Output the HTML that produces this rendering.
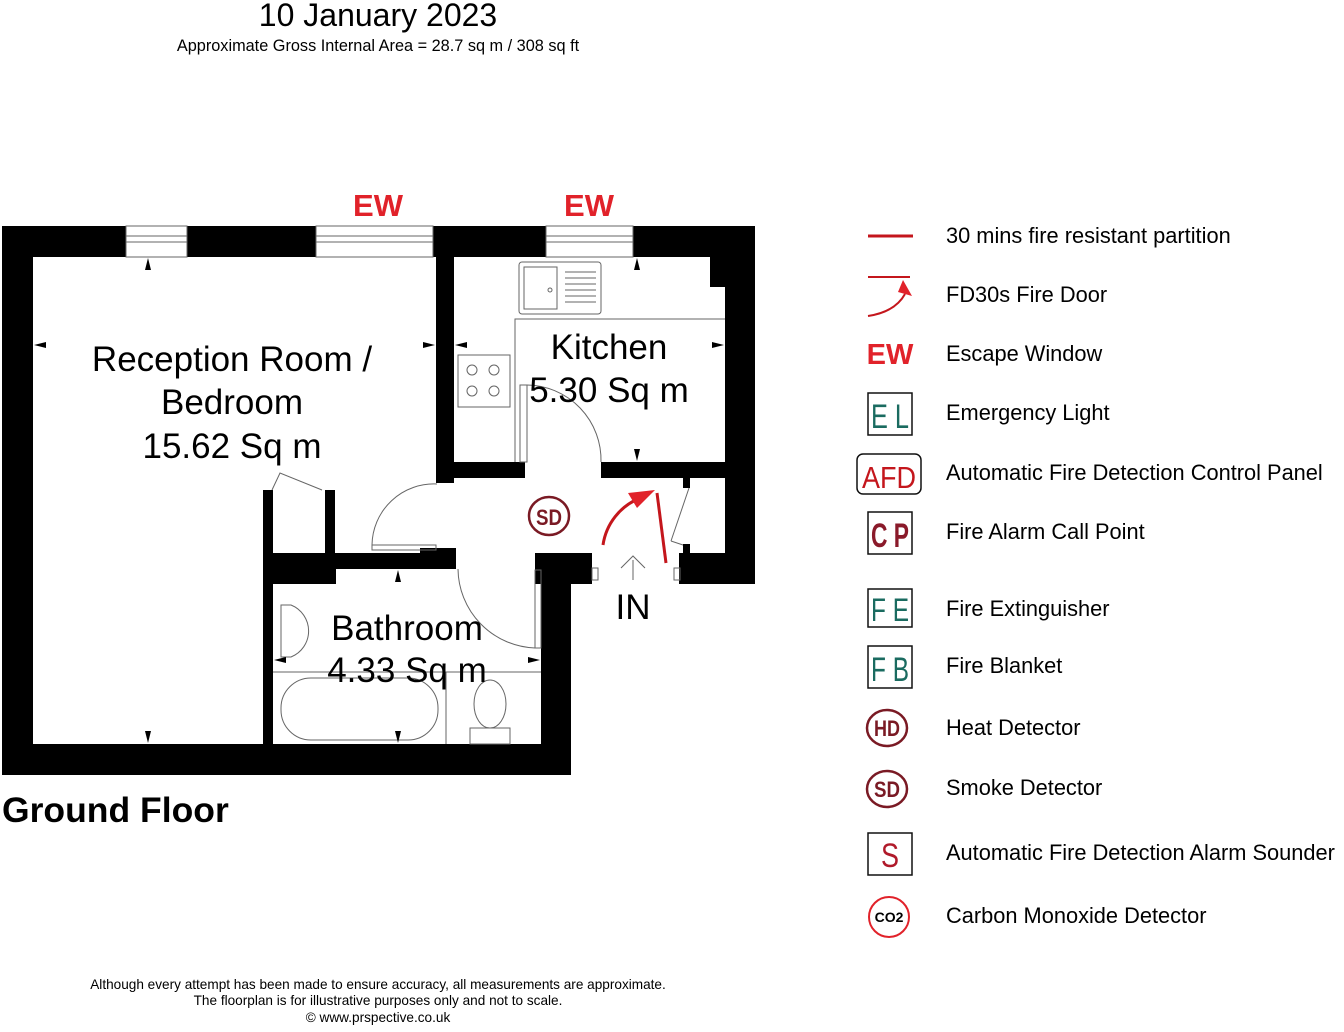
<!DOCTYPE html>
<html><head><meta charset="utf-8"><style>
body{margin:0;background:#fff;width:1344px;height:1032px;overflow:hidden;font-family:"Liberation Sans",sans-serif;}
svg{position:absolute;left:0;top:0}
</style></head><body>
<svg width="1344" height="1032" viewBox="0 0 1344 1032" font-family="Liberation Sans, sans-serif">
<text x="378" y="26" font-size="32" text-anchor="middle">10 January 2023</text>
<text x="378" y="51" font-size="16.3" text-anchor="middle">Approximate Gross Internal Area = 28.7 sq m / 308 sq ft</text>
<g fill="#000">
<rect x="2" y="226" width="753" height="31"/>
<rect x="2" y="226" width="31" height="549"/>
<rect x="2" y="744" width="569" height="31"/>
<rect x="541" y="553" width="30" height="222"/>
<rect x="436" y="226" width="18" height="257"/>
<rect x="436" y="462" width="89" height="16"/>
<rect x="601" y="462" width="124" height="16"/>
<rect x="725" y="226" width="30" height="358"/>
<rect x="710" y="257" width="15" height="30"/>
<rect x="535" y="553" width="57" height="31"/>
<rect x="679" y="553" width="76" height="31"/>
<rect x="683" y="478" width="7" height="10"/>
<rect x="683" y="544" width="7" height="10"/>
<rect x="263" y="490" width="10" height="254"/>
<rect x="263" y="553" width="73" height="31"/>
<rect x="325" y="490" width="10" height="65"/>
<rect x="336" y="553" width="120" height="16"/>
<rect x="420" y="548" width="36" height="10"/>
</g>
<g fill="#fff" stroke="#666" stroke-width="1">
<rect x="126" y="226" width="61" height="31"/>
<rect x="316" y="226" width="117" height="31"/>
<rect x="546" y="226" width="87" height="31"/>
</g>
<g stroke="#666" fill="none">
<line x1="126" y1="236" x2="187" y2="236"/><line x1="126" y1="242" x2="187" y2="242"/>
<line x1="316" y1="236" x2="433" y2="236"/><line x1="316" y1="242" x2="433" y2="242"/>
<line x1="546" y1="236" x2="633" y2="236"/><line x1="546" y1="242" x2="633" y2="242"/>
<polyline points="515,462 515,319 725,319"/>
<rect x="519" y="262" width="82" height="52" rx="3"/>
<rect x="524" y="267" width="33" height="42"/>
<circle cx="550" cy="290" r="2"/>
<line x1="565" y1="272" x2="596" y2="272"/><line x1="565" y1="278" x2="596" y2="278"/><line x1="565" y1="284" x2="596" y2="284"/><line x1="565" y1="290" x2="596" y2="290"/><line x1="565" y1="296" x2="596" y2="296"/><line x1="565" y1="302" x2="596" y2="302"/>
<rect x="458" y="355" width="52" height="52"/>
<circle cx="472" cy="370" r="5"/><circle cx="494" cy="370" r="5"/><circle cx="472" cy="391" r="5"/><circle cx="494" cy="391" r="5"/>
<path d="M527,385 A75,75 0 0 1 601,462"/>
<rect x="520" y="385" width="7" height="77"/>
<path d="M437,484 A62,62 0 0 0 372,545"/>
<rect x="372" y="545" width="64" height="5"/>
<path d="M458,569 A80,80 0 0 0 535,648"/>
<rect x="535" y="570" width="6" height="78"/>
<polyline points="272,490 280,473 322,490"/>
<line x1="689" y1="488" x2="671" y2="541"/><line x1="671" y1="541" x2="683" y2="545"/>
<rect x="592" y="568" width="6" height="12"/><rect x="674" y="568" width="6" height="12"/>
<path d="M281,605 h10 a28,28 0 0 1 0,52 h-10 z"/>
<line x1="273" y1="672" x2="541" y2="672"/>
<rect x="281" y="678" width="157" height="62" rx="30"/>
<line x1="446" y1="672" x2="446" y2="744"/>
<ellipse cx="490" cy="704" rx="16" ry="24"/>
<rect x="470" y="728" width="40" height="16"/>
<path d="M633,580 v-20 m-12,8 l12,-12 12,12"/>
</g>
<g fill="#000">
<path d="M148,258 l-3,12 h6z"/><path d="M148,743 l-3,-12 h6z"/>
<path d="M34,345 l12,-3 v6z"/><path d="M435,345 l-12,-3 v6z"/>
<path d="M455,345 l12,-3 v6z"/><path d="M724,345 l-12,-3 v6z"/>
<path d="M637,258 l-3,12 h6z"/><path d="M637,461 l-3,-12 h6z"/>
<path d="M398,570 l-3,12 h6z"/><path d="M398,743 l-3,-12 h6z"/>
<path d="M274,660 l12,-3 v6z"/><path d="M540,660 l-12,-3 v6z"/>
</g>
<g stroke="#c4161c" stroke-width="3" fill="none">
<path d="M603,545 A60,60 0 0 1 640,498"/>
<line x1="657" y1="493" x2="666" y2="563"/>
</g>
<path d="M628,493 L655,490 L637,508z" fill="#e1222a"/>
<ellipse cx="549" cy="516" rx="20" ry="19" fill="none" stroke="#7a1a24" stroke-width="2.5"/>
<text x="549" y="525" font-size="22" text-anchor="middle" fill="#7a1a24" font-weight="bold" textLength="26" lengthAdjust="spacingAndGlyphs">SD</text>
<g font-size="35" text-anchor="middle">
<text x="232" y="371">Reception Room /</text>
<text x="232" y="414">Bedroom</text>
<text x="232" y="458">15.62 Sq m</text>
<text x="609" y="359">Kitchen</text>
<text x="609" y="402">5.30 Sq m</text>
<text x="407" y="640">Bathroom</text>
<text x="407" y="682">4.33 Sq m</text>
<text x="633" y="619">IN</text>
</g>
<g font-size="31" font-weight="bold" fill="#e1222a" text-anchor="middle">
<text x="378" y="216">EW</text><text x="589" y="216">EW</text>
</g>
<text x="2" y="822" font-size="35.5" font-weight="bold">Ground Floor</text>
<line x1="868" y1="236" x2="913" y2="236" stroke="#c4161c" stroke-width="3"/>
<line x1="868" y1="277" x2="910" y2="277" stroke="#c4161c" stroke-width="2"/>
<path d="M868,316 Q895,312 905,294" stroke="#c4161c" stroke-width="2" fill="none"/>
<path d="M903,280 L912,296 L898,292z" fill="#e1222a"/>
<text x="890" y="364" font-size="29" font-weight="bold" fill="#e1222a" text-anchor="middle">EW</text>
<g fill="none" stroke="#111" stroke-width="1.5">
<rect x="868" y="393" width="44" height="42"/>
<rect x="857" y="454" width="64" height="40" rx="6"/>
<rect x="868" y="512" width="44" height="42"/>
<rect x="868" y="589" width="44" height="38"/>
<rect x="868" y="646" width="44" height="42"/>
<rect x="868" y="833" width="44" height="42"/>
</g>
<g font-size="34" lengthAdjust="spacingAndGlyphs">
<text x="871" y="428" fill="#1a6b60" textLength="38" lengthAdjust="spacingAndGlyphs">E L</text>
<text x="862" y="488" fill="#c4161c" font-size="31" textLength="54" lengthAdjust="spacingAndGlyphs">AFD</text>
<text x="871" y="547" fill="#8a1a2a" font-weight="bold" textLength="38" lengthAdjust="spacingAndGlyphs">C P</text>
<text x="871" y="621" fill="#1a6b60" font-size="32" textLength="38" lengthAdjust="spacingAndGlyphs">F E</text>
<text x="871" y="681" fill="#1a6b60" textLength="38" lengthAdjust="spacingAndGlyphs">F B</text>
<text x="881" y="867" fill="#b01a2a" textLength="18" lengthAdjust="spacingAndGlyphs">S</text>
</g>
<g fill="none" stroke="#7a1a24" stroke-width="2.5">
<ellipse cx="887" cy="728" rx="20" ry="18"/><ellipse cx="887" cy="789" rx="20" ry="18"/>
</g>
<circle cx="889" cy="917" r="20" fill="none" stroke="#e1222a" stroke-width="2"/>
<g font-weight="bold" fill="#7a1a24" font-size="22">
<text x="874" y="736" textLength="26" lengthAdjust="spacingAndGlyphs">HD</text><text x="874" y="797" textLength="26" lengthAdjust="spacingAndGlyphs">SD</text>
</g>
<text x="889" y="922" font-size="14" text-anchor="middle" font-weight="bold">CO2</text>
<g font-size="21.8">
<text x="946" y="243">30 mins fire resistant partition</text>
<text x="946" y="302">FD30s Fire Door</text>
<text x="946" y="361">Escape Window</text>
<text x="946" y="420">Emergency Light</text>
<text x="946" y="480">Automatic Fire Detection Control Panel</text>
<text x="946" y="539">Fire Alarm Call Point</text>
<text x="946" y="616">Fire Extinguisher</text>
<text x="946" y="673">Fire Blanket</text>
<text x="946" y="735">Heat Detector</text>
<text x="946" y="795">Smoke Detector</text>
<text x="946" y="860">Automatic Fire Detection Alarm Sounder</text>
<text x="946" y="923">Carbon Monoxide Detector</text>
</g>
<g font-size="13.6" text-anchor="middle">
<text x="378" y="989">Although every attempt has been made to ensure accuracy, all measurements are approximate.</text>
<text x="378" y="1005">The floorplan is for illustrative purposes only and not to scale.</text>
<text x="378" y="1022">© www.prspective.co.uk</text>
</g>
</svg>
</body></html>
